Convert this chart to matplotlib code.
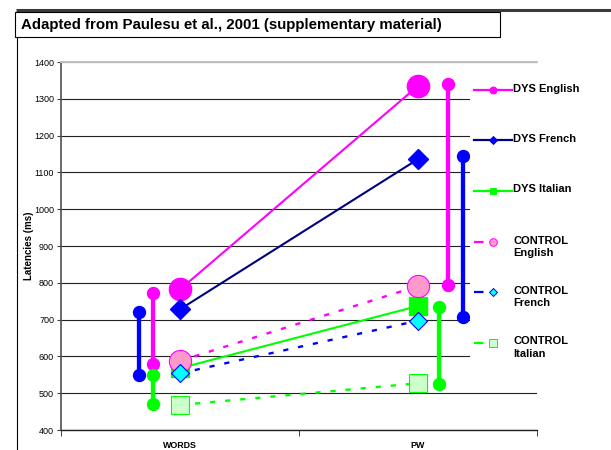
import matplotlib
matplotlib.use('Agg')
import matplotlib.pyplot as plt
from matplotlib.patches import Rectangle
from matplotlib.lines import Line2D

plt.rcParams['font.family'] = ['Liberation Sans', 'DejaVu Sans']

categories = ['WORDS', 'PW']
dys_english = [782, 1335]
dys_french = [728, 1136]
dys_italian = [568, 737]
ctrl_english = [588, 791]
ctrl_french = [554, 697]
ctrl_italian = [468, 527]

# vertical range bars beside each category (low, high)
words_english_range = [579, 771]
words_french_range = [550, 720]
words_italian_range = [471, 550]
pw_english_range = [794, 1341]
pw_french_range = [706, 1145]
pw_italian_range = [524, 733]

labels = ['DYS English', 'DYS French', 'DYS Italian',
          'CONTROL\nEnglish', 'CONTROL\nFrench', 'CONTROL\nItalian']

MAG = '#FF00FF'
BLUE = '#0000FF'
NAVY = '#000080'
GREEN = '#00FF00'

fig = plt.figure(figsize=(6.11, 4.5), dpi=100)
ax = fig.add_axes([61 / 611, 20 / 450, 476 / 611, 368 / 450])

x = [0, 1]

# range bars
bar_kw = dict(lw=3.1, marker='o', ms=8.6, solid_capstyle='butt', zorder=3)
ax.plot([-0.171, -0.171], words_french_range, color=BLUE, **bar_kw)
ax.plot([-0.112, -0.112], words_english_range, color=MAG, **bar_kw)
ax.plot([-0.112, -0.112], words_italian_range, color=GREEN, **bar_kw)
ax.plot([1.127, 1.127], pw_english_range, color=MAG, **bar_kw)
ax.plot([1.088, 1.088], pw_italian_range, color=GREEN, **bar_kw)
ax.plot([1.188, 1.188], pw_french_range, color=BLUE, **bar_kw)

# main series
ax.plot(x, dys_english, color=MAG, lw=1.5, marker='o', ms=16, zorder=4)
ax.plot(x, dys_french, color=NAVY, lw=1.5, marker='D', ms=10,
        mfc=BLUE, mec=BLUE, zorder=4)
ax.plot(x, dys_italian, color=GREEN, lw=1.5, marker='s', ms=13, zorder=4)
ax.plot(x, ctrl_english, color=MAG, lw=1.7, ls=(0, (2.2, 4.2)), marker='o', ms=16,
        mfc='#FF99CC', mec=MAG, mew=0.8, zorder=5)
ax.plot(x, ctrl_french, color=BLUE, lw=1.7, ls=(0, (2.2, 4.2)), marker='D', ms=9.3,
        mfc='#00FFFF', mec=BLUE, mew=0.8, zorder=6)
ax.plot(x, ctrl_italian, color=GREEN, lw=1.7, ls=(0, (2.2, 4.2)), marker='s', ms=13.5,
        mfc='#CCFFCC', mec=GREEN, mew=0.8, zorder=5)

ax.set_xlim(-0.5, 1.5)
ax.set_ylim(400, 1400)
ax.set_yticks(range(400, 1401, 100))
ax.set_xticks(x)
ax.set_xticklabels(categories, fontsize=6.4, fontweight='bold')
ax.set_xticks([-0.5, 0.5, 1.5], minor=True)
ax.tick_params(axis='x', which='major', length=0, pad=8)
ax.tick_params(axis='x', which='minor', length=4, direction='out', color='#222222')
ax.tick_params(axis='y', length=3, direction='out', labelsize=6.5, pad=2, color='#404040')
ax.set_ylabel('Latencies (ms)', fontsize=7, fontweight='bold', labelpad=0)
ax.grid(axis='y', color='#222222', lw=0.8, zorder=0)
ax.set_axisbelow(True)
ax.spines['right'].set_visible(False)
ax.spines['top'].set_color('#C0C0C0')
ax.spines['top'].set_linewidth(1.4)
ax.spines['left'].set_color('#505050')
ax.spines['left'].set_linewidth(1.2)
ax.spines['bottom'].set_color('#222222')
ax.spines['bottom'].set_linewidth(1.0)

# overlay in pixel coordinates for frame, title box and legend
ov = fig.add_axes([0, 0, 1, 1], zorder=10)
ov.set_xlim(0, 611)
ov.set_ylim(450, 0)
ov.axis('off')
ov.patch.set_alpha(0)

ov.plot([16, 611], [10, 10], color='#3A3A3A', lw=2.2, solid_capstyle='butt')
ov.plot([17, 17], [37, 450], color='black', lw=0.8)
ov.add_patch(Rectangle((15, 12), 485, 25, fc='white', ec='black', lw=0.8))
ov.text(21, 24.5, 'Adapted from Paulesu et al., 2001 (supplementary material)',
        fontsize=10.8, fontweight='bold', va='center', ha='left')

# legend background hides gridlines
ov.add_patch(Rectangle((470, 64), 67, 321, fc='white', ec='none'))

leg_y = [90, 140, 191, 242, 292, 343]
handles = [
    dict(color=MAG, marker='o', ms=5, mfc=MAG, mec=MAG, dashed=False),
    dict(color=NAVY, marker='D', ms=3.8, mfc=BLUE, mec=BLUE, dashed=False),
    dict(color=GREEN, marker='s', ms=5, mfc=GREEN, mec=GREEN, dashed=False),
    dict(color=MAG, marker='o', ms=5.5, mfc='#FF99CC', mec=MAG, dashed=True),
    dict(color=BLUE, marker='D', ms=4, mfc='#00FFFF', mec=BLUE, dashed=True),
    dict(color=GREEN, marker='s', ms=5.5, mfc='#CCFFCC', mec=GREEN, dashed=True),
]
for y, lab, h in zip(leg_y, labels, handles):
    if h['dashed']:
        ln = Line2D([474, 512], [y, y], color=h['color'], lw=1.6)
        ln.set_dashes([4.3, 18.9])
        ln.set_dash_capstyle('butt')
        ov.add_line(ln)
    else:
        ov.plot([474, 512], [y, y], color=h['color'], lw=1.6)
    ov.plot([493], [y], marker=h['marker'], ms=h['ms'], mfc=h['mfc'],
            mec=h['mec'], mew=0.7, ls='none')
    ov.text(513, y - 6.5, lab, fontsize=8, fontweight='bold', va='top',
            ha='left', linespacing=1.35)

fig.savefig('out.png', dpi=100)
